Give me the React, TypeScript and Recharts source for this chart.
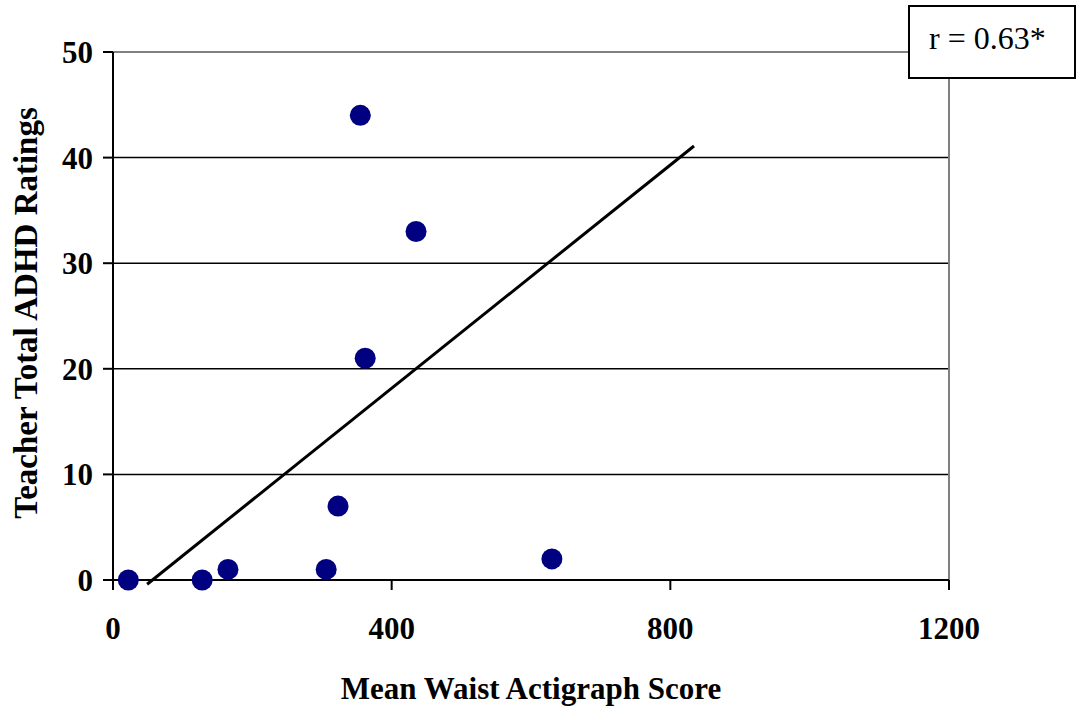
import {
  ScatterChart,
  Scatter,
  XAxis,
  YAxis,
  CartesianGrid,
  ReferenceLine,
} from "recharts"

// actigraph score vs. teacher rating, one point per child
const waistScore = [22, 128, 165, 306, 323, 355, 362, 435, 630]
const adhdRating = [0, 0, 1, 1, 7, 44, 21, 33, 2]

// fitted regression line end points
const trendScore = [49, 834]
const trendRating = [-0.4, 41.1]

const xTicks = [0, 400, 800, 1200]
const yTicks = [0, 10, 20, 30, 40, 50]

const points = waistScore.map((x, i) => ({ x, y: adhdRating[i] }))
const trend = trendScore.map((x, i) => ({ x, y: trendRating[i] }))

const serif = "'Liberation Serif', 'Times New Roman', serif"
const tickStyle = { fill: "#000", fontSize: 31, fontWeight: 700, fontFamily: serif }

export default function App() {
  return (
    <div style={{ position: "absolute", left: 0, top: 0, width: 1079, height: 709, background: "#fff" }}>
      <ScatterChart
        width={1079}
        height={709}
        margin={{ top: 52, right: 130, bottom: 0, left: 0 }}
      >
        <CartesianGrid vertical={false} stroke="#000" strokeWidth={1.5} />
        <XAxis
          type="number"
          dataKey="x"
          domain={[0, 1200]}
          ticks={xTicks}
          height={129}
          stroke="#000"
          strokeWidth={2}
          tickSize={10}
          tickMargin={27}
          tick={tickStyle}
        />
        <YAxis
          type="number"
          dataKey="y"
          domain={[0, 50]}
          ticks={yTicks}
          width={113}
          stroke="#000"
          strokeWidth={2}
          tickSize={10}
          tickMargin={10}
          tick={tickStyle}
        />
        <ReferenceLine y={50} stroke="#808080" strokeWidth={2} />
        <ReferenceLine x={1200} stroke="#808080" strokeWidth={2} />
        {/* trend line, allowed to run just past the x axis */}
        <ReferenceLine
          segment={trend}
          ifOverflow="visible"
          stroke="#000"
          strokeWidth={3}
        />
        <Scatter
          data={points}
          fill="#000080"
          shape={(p: any) => <circle cx={p.cx} cy={p.cy} r={10.5} fill="#000080" />}
          isAnimationActive={false}
        />
        <text
          x={531}
          y={699}
          textAnchor="middle"
          fontFamily={serif}
          fontWeight={700}
          fontSize={31}
          fill="#000"
        >
          Mean Waist Actigraph Score
        </text>
        <text
          transform="translate(37,313) rotate(-90)"
          textAnchor="middle"
          fontFamily={serif}
          fontWeight={700}
          fontSize={33}
          fill="#000"
        >
          Teacher Total ADHD Ratings
        </text>
      </ScatterChart>
      <div
        style={{
          position: "absolute",
          left: 908,
          top: 5,
          width: 164,
          height: 70,
          border: "2px solid #000",
          background: "#fff",
          fontFamily: serif,
          fontSize: 32,
          lineHeight: 1,
          boxSizing: "content-box",
        }}
      >
        <span style={{ position: "absolute", left: 19, top: 15 }}>r = 0.63*</span>
      </div>
    </div>
  )
}
